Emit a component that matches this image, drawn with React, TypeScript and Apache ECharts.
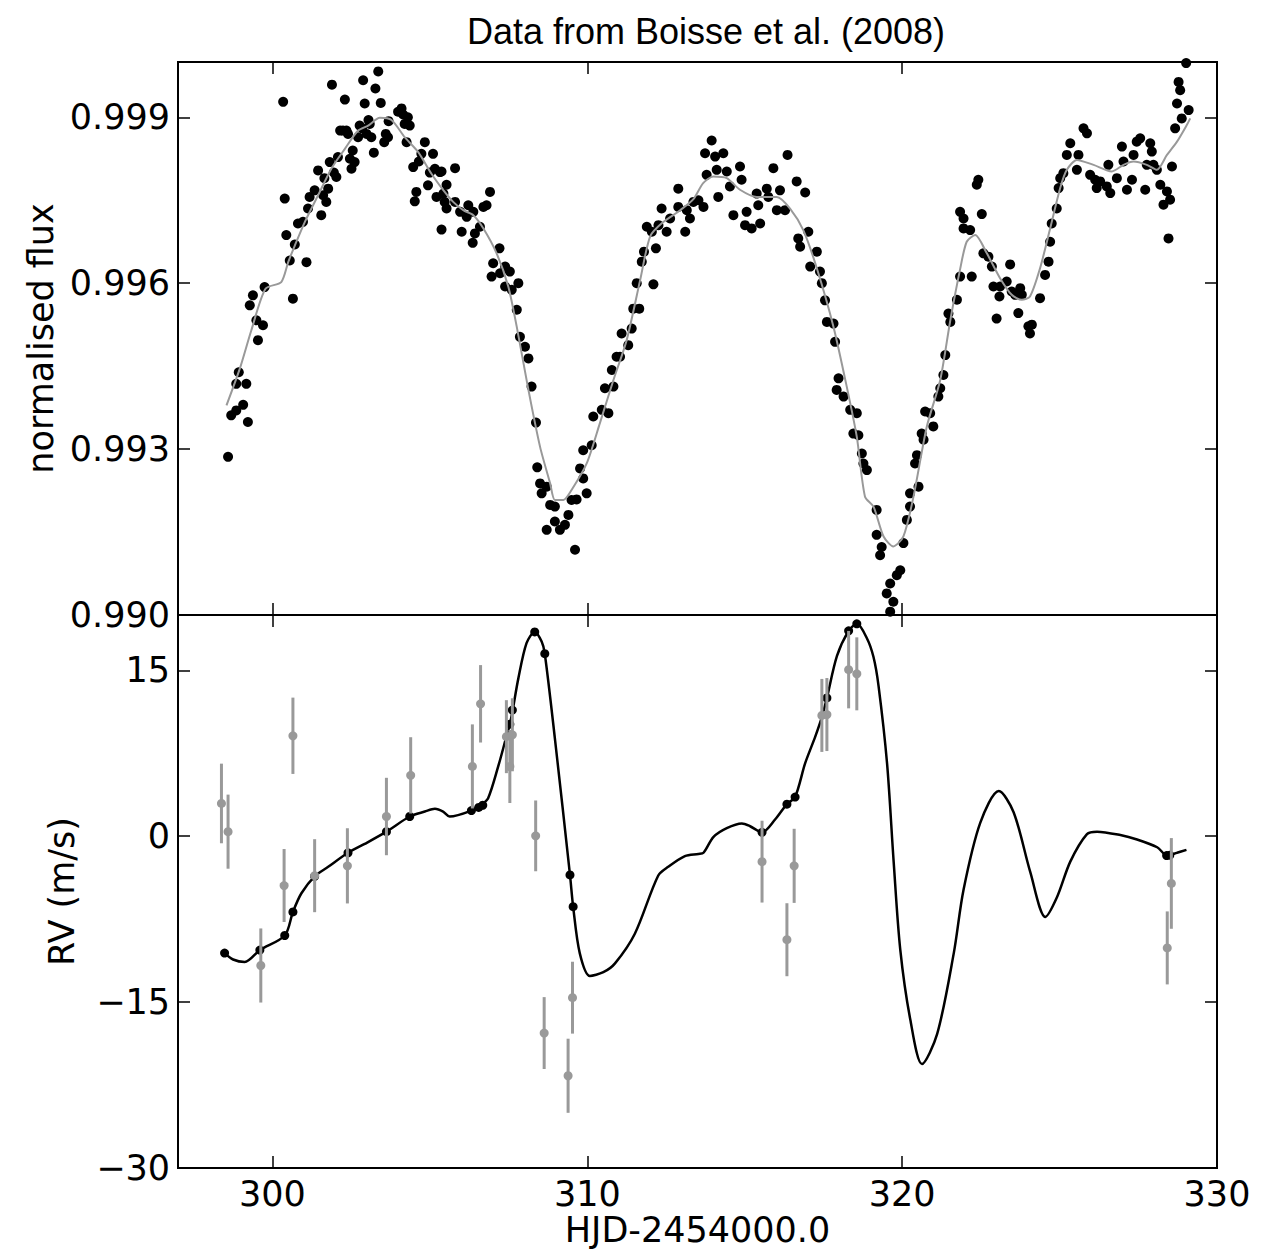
import React, { useEffect, useRef } from "react";
import * as echarts from "echarts";

// ---------- Top panel: photometry ----------
const fluxTime = [
  298.59, 298.69, 298.85, 299.07, 299.22, 298.93, 298.85, 299.17, 299.54, 299.49, 299.70, 299.28, 299.38, 299.75,
  300.65, 300.34, 300.39, 300.44, 300.55, 300.71, 301.08, 300.81, 300.97, 301.13, 301.18, 301.34, 301.45, 301.55,
  301.61, 301.71, 301.77, 301.82, 302.03, 302.08, 302.24, 302.35, 302.30, 301.89, 302.46, 302.51, 302.61, 302.72,
  302.77, 302.88, 302.93, 302.99, 303.09, 303.14, 303.22, 303.27, 303.36, 303.44, 303.55, 303.67, 303.69, 303.99,
  304.10, 304.20, 304.36, 304.26, 304.47, 304.57, 304.52, 304.84, 304.73, 304.94, 305.10, 305.16, 305.32, 305.21,
  305.47, 302.15, 302.40, 302.85, 303.05, 301.95, 301.65, 302.55, 303.60, 304.15, 304.30, 304.65, 305.00,
  305.37, 305.80, 305.53, 305.43, 305.53, 305.80, 305.37, 306.01, 305.96, 306.22, 306.17, 306.38, 306.43, 306.36,
  306.59, 306.70, 306.91, 306.80, 307.21, 307.01, 306.96, 307.23, 307.39, 307.54, 307.39, 307.60, 307.81, 307.76,
  307.86, 308.02, 308.13, 308.23, 308.37, 308.41, 308.50, 308.55, 308.71, 308.82, 308.97, 308.71, 308.97, 309.13,
  309.29, 309.40, 309.50, 309.66, 309.61, 309.98, 309.77, 309.87, 309.87, 310.14, 310.19, 310.46, 310.67, 310.56,
  310.83, 310.78, 310.93, 311.04, 311.09, 311.30, 311.41, 311.46, 311.65, 311.57, 312.10, 311.73, 311.80, 312.18,
  311.89, 312.05, 312.26, 312.36, 312.52, 312.63, 312.89, 312.89, 313.16, 313.11, 313.26, 313.37, 313.53,
  313.95, 313.74, 314.06, 314.32, 313.79, 314.11, 314.43, 314.85, 314.90, 314.53, 313.69, 314.16, 314.64, 315.06,
  315.01, 315.22, 315.49, 315.43, 315.38, 315.70, 315.75, 315.91, 316.12, 316.02, 316.28, 316.36, 316.65, 316.92,
  317.02, 316.70, 316.76, 317.29, 317.08, 317.39, 317.45, 317.55, 317.61, 317.82, 317.87, 317.98, 317.92, 318.14,
  318.35, 318.56, 318.45, 318.61, 318.72, 318.77, 318.88, 319.19, 319.19, 319.35, 319.30, 320.04, 319.94, 319.83,
  319.62, 319.51, 319.72, 319.62, 320.15, 320.25, 320.25, 320.52, 320.41, 320.47, 320.62, 320.68, 320.73, 320.89,
  320.99, 321.15, 321.21, 321.31, 321.37, 321.53, 321.47, 321.74,
  321.84, 321.95, 321.95, 322.16, 321.84, 322.21, 322.37, 322.42, 322.53, 322.58, 322.74, 322.85, 322.90, 323.11,
  323.09, 323.00, 323.43, 323.32, 323.48, 323.59, 323.75, 323.80, 323.69, 324.01, 324.12, 324.06, 324.38, 324.54,
  324.65, 324.70, 324.75, 324.91, 324.97, 325.02, 325.12, 325.23, 325.34, 325.55, 325.60, 325.76, 325.87, 325.97,
  326.13, 326.18, 326.29, 326.55, 326.50, 326.61, 326.82, 327.03, 326.98, 327.14, 327.30, 327.35, 327.45, 327.56,
  327.72, 327.77, 327.88, 327.93, 327.98, 328.09, 328.20, 328.30, 328.51, 328.41, 328.46, 328.57, 328.67, 328.73,
  328.83, 328.78, 329.10, 328.88, 329.02,
];
const fluxValue = [
  0.99286, 0.99361, 0.99370, 0.99380, 0.99349, 0.99439, 0.99418, 0.99418, 0.99497, 0.99533, 0.99524, 0.99560, 0.99578, 0.99593,
  0.99572, 0.99928, 0.99753, 0.99687, 0.99641, 0.99670, 0.99638, 0.99708, 0.99711, 0.99735, 0.99756, 0.99768, 0.99804, 0.99723,
  0.99759, 0.99747, 0.99771, 0.99819, 0.99792, 0.99828, 0.99876, 0.99876, 0.99932, 0.99959, 0.99825, 0.99807, 0.99819, 0.99864,
  0.99885, 0.99967, 0.99925, 0.99870, 0.99888, 0.99864, 0.99836, 0.99952, 0.99983, 0.99926, 0.99855, 0.99864, 0.99893, 0.99910,
  0.99916, 0.99888, 0.99885, 0.99855, 0.99810, 0.99765, 0.99748, 0.99855, 0.99834, 0.99777, 0.99834, 0.99807, 0.99801, 0.99756,
  0.99747, 0.99876, 0.99870, 0.99880, 0.99895, 0.99800, 0.99790, 0.99840, 0.99870, 0.99905, 0.99900, 0.99820, 0.99800,
  0.99802, 0.99808, 0.99778, 0.99762, 0.99735, 0.99747, 0.99697, 0.99693, 0.99729, 0.99741, 0.99720, 0.99729, 0.99690, 0.99673,
  0.99702, 0.99738, 0.99765, 0.99741, 0.99663, 0.99636, 0.99612, 0.99618, 0.99630, 0.99621, 0.99594, 0.99588, 0.99600, 0.99552,
  0.99503, 0.99485, 0.99464, 0.99413, 0.99348, 0.99267, 0.99238, 0.99220, 0.99232, 0.99199, 0.99196, 0.99154, 0.99169, 0.99154,
  0.99163, 0.99181, 0.99208, 0.99209, 0.99118, 0.99220, 0.99265, 0.99247, 0.99298, 0.99307, 0.99359, 0.99371, 0.99365, 0.99410,
  0.99413, 0.99443, 0.99467, 0.99467, 0.99509, 0.99488, 0.99518, 0.99554, 0.99554, 0.99600, 0.99598, 0.99639, 0.99657, 0.99663,
  0.99702, 0.99693, 0.99705, 0.99735, 0.99693, 0.99717, 0.99771, 0.99738, 0.99732, 0.99693, 0.99717, 0.99747, 0.99750,
  0.99858, 0.99835, 0.99829, 0.99835, 0.99796, 0.99805, 0.99802, 0.99811, 0.99787, 0.99775, 0.99738, 0.99756, 0.99723, 0.99729,
  0.99705, 0.99699, 0.99708, 0.99741, 0.99762, 0.99771, 0.99756, 0.99808, 0.99768, 0.99732, 0.99732, 0.99832, 0.99784, 0.99764,
  0.99693, 0.99681, 0.99666, 0.99657, 0.99630, 0.99621, 0.99600, 0.99569, 0.99530, 0.99527, 0.99494, 0.99428, 0.99407, 0.99395,
  0.99371, 0.99365, 0.99328, 0.99325, 0.99292, 0.99274, 0.99262, 0.99190, 0.99145, 0.99123, 0.99108, 0.99130, 0.99081, 0.99072,
  0.99057, 0.99039, 0.99024, 0.99006, 0.99172, 0.99196, 0.99220, 0.99232, 0.99274, 0.99289, 0.99328, 0.99317, 0.99368, 0.99365,
  0.99341, 0.99395, 0.99410, 0.99434, 0.99470, 0.99530, 0.99545, 0.99570,
  0.99729, 0.99717, 0.99699, 0.99696, 0.99612, 0.99612, 0.99778, 0.99787, 0.99725, 0.99654, 0.99648, 0.99630, 0.99594, 0.99594,
  0.99576, 0.99536, 0.99634, 0.99603, 0.99585, 0.99579, 0.99591, 0.99579, 0.99546, 0.99522, 0.99525, 0.99509, 0.99573, 0.99615,
  0.99639, 0.99675, 0.99708, 0.99735, 0.99772, 0.99790, 0.99799, 0.99832, 0.99853, 0.99805, 0.99832, 0.99880, 0.99871, 0.99796,
  0.99787, 0.99772, 0.99784, 0.99814, 0.99775, 0.99763, 0.99790, 0.99820, 0.99847, 0.99769, 0.99787, 0.99832, 0.99856, 0.99862,
  0.99769, 0.99814, 0.99853, 0.99838, 0.99814, 0.99805, 0.99778, 0.99742, 0.99751, 0.99766, 0.99681, 0.99811, 0.99880, 0.99925,
  0.99949, 0.99964, 0.99913, 0.99898, 0.99998,
];

const fluxModelTime = [
  298.54, 298.96, 299.33, 299.78, 300.28, 300.50, 300.71, 301.03, 301.45, 301.87, 302.30, 302.72, 303.04, 303.41,
  303.78, 304.20, 304.63, 305.05, 305.47, 305.74, 306.06, 306.38, 306.70, 307.12, 307.49, 307.76, 308.13, 308.50,
  308.82, 308.97, 309.24, 309.50, 309.98, 310.40, 310.83, 311.25, 311.68, 312.00, 312.40, 312.95, 313.37, 313.68,
  314.00, 314.43, 314.85, 315.38, 316.02, 316.44, 316.86, 317.29, 317.82, 318.24, 318.56, 318.82, 319.09, 319.41,
  319.72, 320.04, 320.36, 320.78, 321.21, 321.53, 321.84, 322.05, 322.32, 322.69, 323.11, 323.48, 323.80, 324.06,
  324.38, 324.70, 325.02, 325.23, 325.55, 326.08, 326.66, 327.03, 327.35, 327.77, 328.09, 328.41, 328.73, 329.04,
  329.15,
];
const fluxModelValue = [
  0.99379, 0.99445, 0.99515, 0.99590, 0.99602, 0.99638, 0.99668, 0.99711, 0.99759, 0.99807, 0.99843, 0.99876, 0.99885, 0.99899,
  0.99895, 0.99864, 0.99837, 0.99798, 0.99765, 0.99747, 0.99732, 0.99723, 0.99699, 0.99654, 0.99594, 0.99521, 0.99407, 0.99304,
  0.99238, 0.99208, 0.99208, 0.99226, 0.99274, 0.99347, 0.99425, 0.99497, 0.99606, 0.99685, 0.99710, 0.99732, 0.99752, 0.99781,
  0.99793, 0.99790, 0.99769, 0.99756, 0.99756, 0.99735, 0.99696, 0.99627, 0.99521, 0.99413, 0.99322, 0.99214, 0.99196, 0.99142,
  0.99124, 0.99142, 0.99214, 0.99340, 0.99425, 0.99533, 0.99625, 0.99675, 0.99687, 0.99654, 0.99609, 0.99579, 0.99570, 0.99576,
  0.99627, 0.99699, 0.99772, 0.99805, 0.99823, 0.99814, 0.99802, 0.99814, 0.99820, 0.99814, 0.99805, 0.99832, 0.99856, 0.99886,
  0.99898,
];

// ---------- Bottom panel: radial velocity ----------
const rvModelTime = [
  298.48, 298.75, 299.12, 299.60, 300.39, 300.65, 300.92, 301.34, 301.77, 302.40, 302.93, 303.62, 304.36, 304.84,
  305.16, 305.42, 305.63, 306.32, 306.64, 306.85, 307.17, 307.43, 307.54, 307.63, 307.81, 308.07, 308.33, 308.55,
  308.65, 308.97, 309.45, 309.55, 309.76, 310.08, 310.51, 310.88, 311.51, 312.25, 312.57, 313.10, 313.53, 313.69,
  314.01, 314.43, 314.91, 315.17, 315.55, 315.97, 316.34, 316.60, 316.92, 317.24, 317.45, 317.61, 317.93, 318.30,
  318.56, 318.88, 319.09, 319.25, 319.52, 319.73, 319.94, 320.26, 320.63, 321.11, 321.64, 321.95, 322.48, 323.07,
  323.54, 324.07, 324.55, 324.92, 325.34, 325.87, 326.19, 326.93, 327.46, 328.10, 328.42, 328.73, 329.03,
];
const rvModelValue = [
  -10.57, -11.15, -11.37, -10.3, -8.98, -6.85, -5.16, -3.63, -2.77, -1.5, -0.7, 0.41, 1.78, 2.23,
  2.48, 2.23, 1.78, 2.32, 2.87, 3.44, 6.31, 9.01, 10.13, 11.4, 14.27, 17.45, 18.47, 17.6,
  16.5, 8.85, -3.5, -6.37, -10.57, -12.64, -12.3, -11.5, -8.82, -3.57, -2.77, -1.8, -1.6, -1.5,
  -0.06, 0.73, 1.15, 0.9, 0.35, 1.53, 2.9, 3.54, 6.6, 9.0, 10.76, 12.5, 16.3, 18.57,
  19.2, 17.9, 16.2, 13.6, 6.6, -2.3, -10.25, -16.6, -20.6, -17.9, -10.57, -4.84, 1.2, 4.08,
  2.17, -3.25, -7.3, -5.5, -2.3, 0.19, 0.41, 0.1, -0.3, -1.0, -1.75, -1.5, -1.24,
];

const rvModelDotTime = [
  298.48, 299.60, 300.39, 300.65, 301.34, 302.40, 303.62, 304.36, 306.32, 306.55, 306.68, 307.54, 307.62,
  308.33, 308.65, 309.45, 309.55, 315.55, 316.34, 316.60, 317.61, 318.30, 318.56, 328.40, 328.50,
];
const rvModelDotValue = [
  -10.57, -10.3, -8.98, -6.85, -3.63, -1.5, 0.41, 1.78, 2.32, 2.6, 2.8, 10.13, 11.4,
  18.47, 16.5, -3.5, -6.37, 0.35, 2.9, 3.54, 12.5, 18.57, 19.2, -1.75, -1.72,
];

const rvTime = [
  298.38, 298.59, 299.63, 300.37, 300.65, 301.34, 302.38, 303.62, 304.39, 306.35, 306.61, 307.43, 307.54, 307.62,
  308.36, 308.63, 309.39, 309.53, 315.55, 316.34, 316.57, 317.45, 317.61, 318.30, 318.56, 328.42, 328.55,
];
const rvValue = [
  2.96, 0.41, -11.69, -4.46, 9.08, -3.57, -2.68, 1.78, 5.5, 6.31, 11.97, 9.0, 6.3, 9.17,
  0.03, -17.8, -21.66, -14.6, -2.3, -9.36, -2.68, 10.92, 11.0, 15.06, 14.68, -10.1, -4.27,
];
const rvError = [
  3.6, 3.35, 3.35, 3.3, 3.45, 3.3, 3.4, 3.5, 3.45, 3.8, 3.5, 3.3, 3.3, 3.3,
  3.2, 3.25, 3.35, 3.25, 3.7, 3.3, 3.35, 3.3, 3.3, 3.5, 3.3, 3.3, 4.1,
];

const xTicks = [300, 310, 320, 330];
const fluxTicks = [0.99, 0.993, 0.996, 0.999];
const rvTicks = [-30, -15, 0, 15];

const TITLE = "Data from Boisse et al. (2008)";
const X_NAME = "HJD-2454000.0";
const FLUX_NAME = "normalised flux";
const RV_NAME = "RV (m/s)";

const FONT = "DejaVu Sans";
const FONT_SIZE = 35;
const GRAY = "#999999";

export default function App() {
  const ref = useRef<HTMLDivElement>(null);

  useEffect(() => {
    if (!ref.current) return;
    const chart = echarts.init(ref.current, undefined, { renderer: "svg" });

    const tickStyle = (values: number[]) => ({
      show: true,
      inside: true,
      length: 12,
      customValues: values,
      lineStyle: { color: "#000", width: 1.5 },
    });
    const noLabel = { show: false };
    const labelStyle = (values: number[], fmt: (v: number) => string, margin: number) => ({
      show: true,
      customValues: values,
      formatter: fmt,
      color: "#000",
      fontFamily: FONT,
      fontSize: FONT_SIZE,
      margin,
    });

    const xBase = (grid: number, pos: "top" | "bottom", extra: any = {}) => ({
      type: "value",
      gridIndex: grid,
      position: pos,
      min: 297,
      max: 330,
      axisLine: { show: false, onZero: false },
      splitLine: { show: false },
      axisTick: tickStyle(xTicks),
      axisLabel: noLabel,
      ...extra,
    });
    const yBase = (grid: number, pos: "left" | "right", min: number, max: number, ticks: number[], extra: any = {}) => ({
      type: "value",
      gridIndex: grid,
      position: pos,
      min,
      max,
      axisLine: { show: false, onZero: false },
      splitLine: { show: false },
      axisTick: tickStyle(ticks),
      axisLabel: noLabel,
      ...extra,
    });

    const minus = (v: number) => String(v).replace("-", "\u2212");
    const nameStyle = { fontFamily: FONT, fontSize: FONT_SIZE, color: "#000" };

    const option: any = {
      animation: false,
      backgroundColor: "#fff",
      title: {
        text: TITLE,
        left: 701,
        top: 8,
        textAlign: "center",
        textStyle: { fontFamily: "Liberation Sans", fontWeight: "normal", fontSize: 36, color: "#000" },
      },
      grid: [
        { left: 178, top: 62, width: 1039, height: 553, show: true, borderColor: "#000", borderWidth: 2, backgroundColor: "transparent" },
        { left: 178, top: 615, width: 1039, height: 553, show: true, borderColor: "#000", borderWidth: 2, backgroundColor: "transparent" },
      ],
      xAxis: [
        xBase(0, "bottom"),
        xBase(0, "top"),
        xBase(1, "bottom", {
          axisLabel: labelStyle(xTicks, (v: number) => String(v), 8),
          name: X_NAME,
          nameLocation: "middle",
          nameGap: 44,
          nameTextStyle: nameStyle,
        }),
        xBase(1, "top"),
      ],
      yAxis: [
        yBase(0, "left", 0.99, 1.0, fluxTicks, {
          axisLabel: labelStyle(fluxTicks, (v: number) => v.toFixed(3), 8),
          name: FLUX_NAME,
          nameLocation: "middle",
          nameGap: 120,
          nameTextStyle: nameStyle,
        }),
        yBase(0, "right", 0.99, 1.0, fluxTicks),
        yBase(1, "left", -30, 20, rvTicks, {
          axisLabel: labelStyle(rvTicks, minus, 8),
          name: RV_NAME,
          nameLocation: "middle",
          nameGap: 99,
          nameTextStyle: nameStyle,
        }),
        yBase(1, "right", -30, 20, rvTicks),
      ],
      series: [
        {
          type: "scatter",
          xAxisIndex: 0,
          yAxisIndex: 0,
          symbol: "circle",
          symbolSize: 10,
          itemStyle: { color: "#000", opacity: 1 },
          data: fluxTime.map((t, i) => [t, fluxValue[i]]),
          z: 2,
        },
        {
          type: "line",
          xAxisIndex: 0,
          yAxisIndex: 0,
          showSymbol: false,
          smooth: 0.25,
          lineStyle: { color: GRAY, width: 2 },
          data: fluxModelTime.map((t, i) => [t, fluxModelValue[i]]),
          z: 3,
        },
        {
          type: "line",
          xAxisIndex: 2,
          yAxisIndex: 2,
          showSymbol: false,
          smooth: 0.3,
          lineStyle: { color: "#000", width: 2.5 },
          data: rvModelTime.map((t, i) => [t, rvModelValue[i]]),
          z: 2,
        },
        {
          type: "scatter",
          xAxisIndex: 2,
          yAxisIndex: 2,
          symbol: "circle",
          symbolSize: 9,
          itemStyle: { color: "#000", opacity: 1 },
          data: rvModelDotTime.map((t, i) => [t, rvModelDotValue[i]]),
          z: 3,
        },
        {
          type: "custom",
          xAxisIndex: 2,
          yAxisIndex: 2,
          encode: { x: 0, y: 1 },
          data: rvTime.map((t, i) => [t, rvValue[i], rvError[i]]),
          z: 4,
          renderItem: (params: any, api: any) => {
            const x = api.value(0);
            const y = api.value(1);
            const e = api.value(2);
            const hi = api.coord([x, y + e]);
            const lo = api.coord([x, y - e]);
            const c = api.coord([x, y]);
            return {
              type: "group",
              children: [
                { type: "line", shape: { x1: hi[0], y1: hi[1], x2: lo[0], y2: lo[1] }, style: { stroke: GRAY, lineWidth: 3 } },
                { type: "circle", shape: { cx: c[0], cy: c[1], r: 4.5 }, style: { fill: GRAY } },
              ],
            };
          },
        },
      ],
    };

    chart.setOption(option);
    return () => chart.dispose();
  }, []);

  return (
    <div
      ref={ref}
      style={{ position: "fixed", left: 0, top: 0, width: 1274, height: 1254, background: "#fff" }}
    />
  );
}
